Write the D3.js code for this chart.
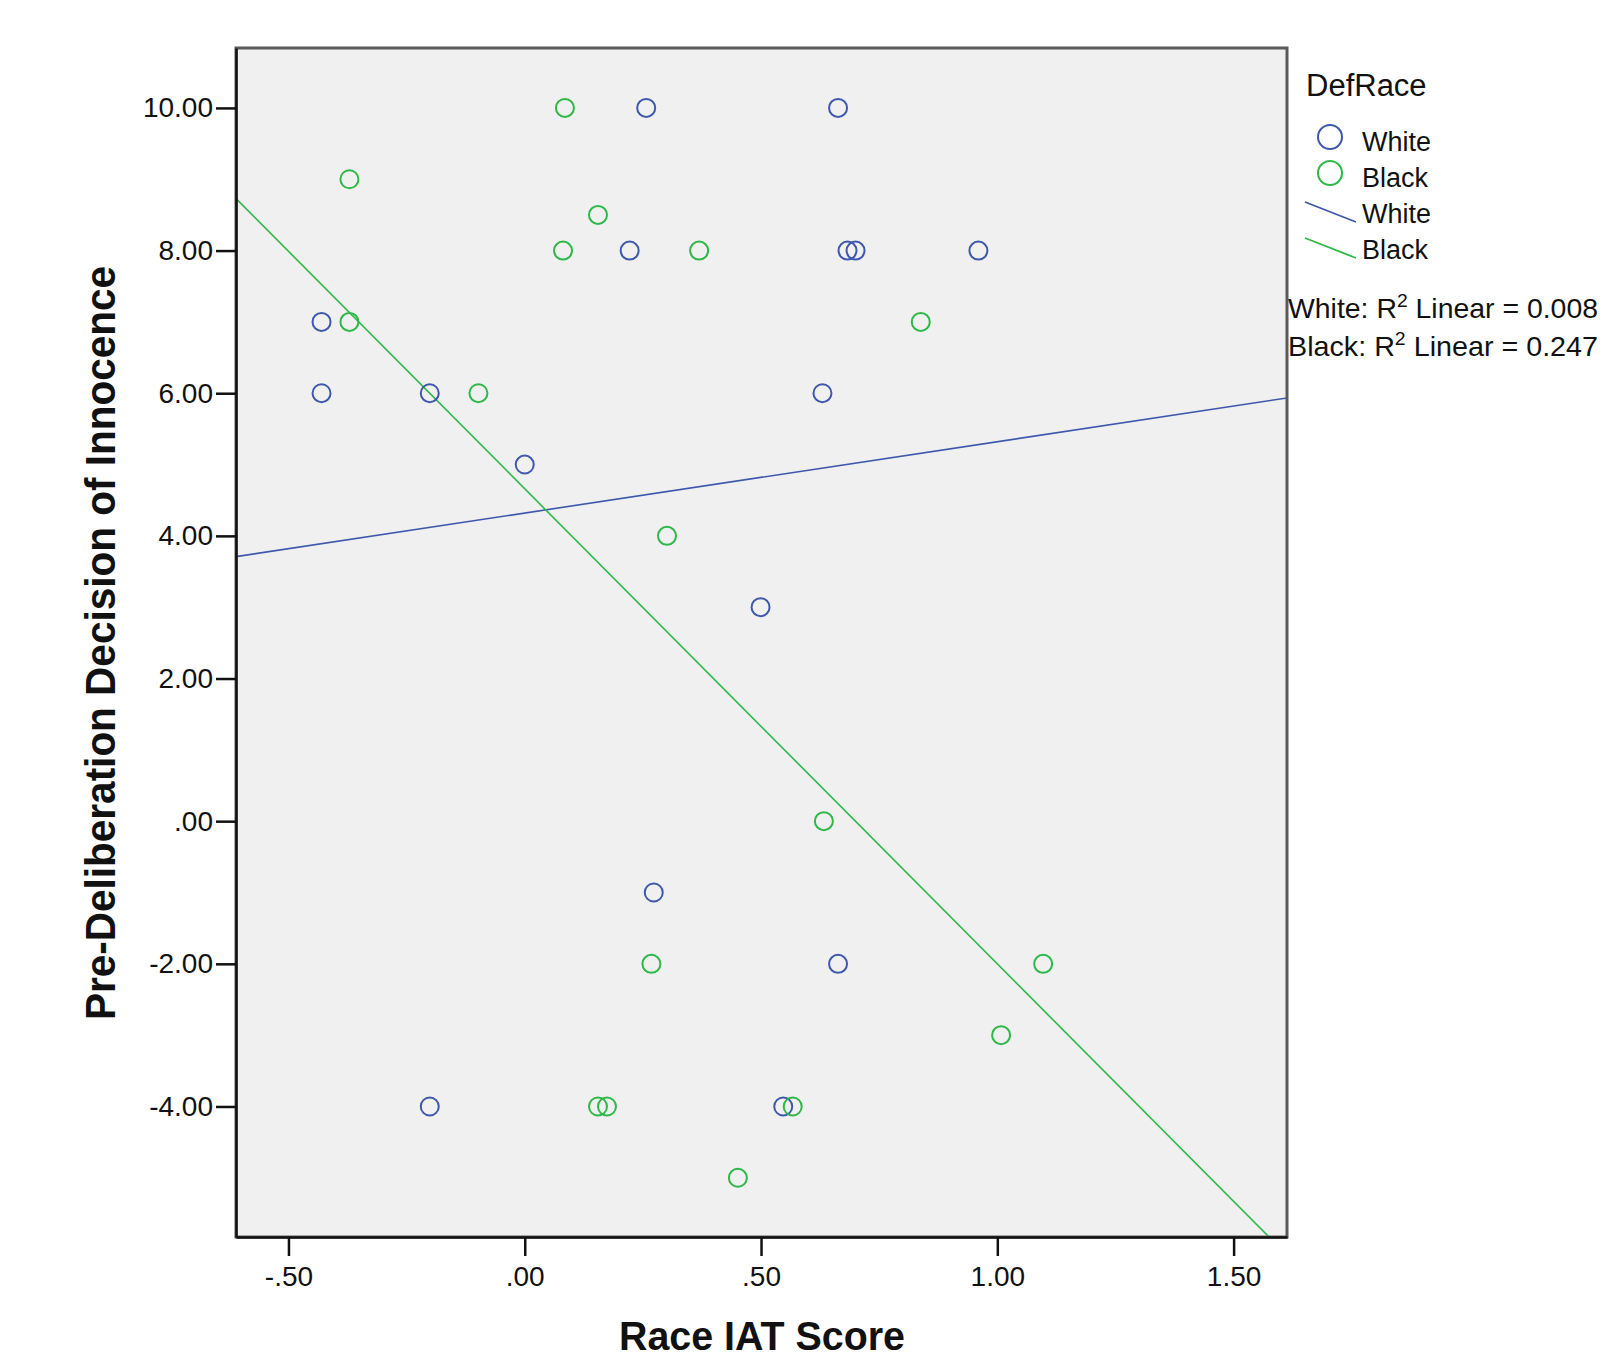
<!DOCTYPE html>
<html>
<head>
<meta charset="utf-8">
<script src="https://cdn.jsdelivr.net/npm/d3@7"></script>
<style>
    body { margin: 0; background: #fff; }
    text { font-family: "Liberation Sans", Arial, sans-serif; fill: #111; }
</style>
</head>
<body>
<div id="chart"></div>
<script>
// IAT score (x) and pre-deliberation decision (y), per defendant race
const whiteX = [0.257, 0.663, 0.222, 0.683, 0.700, 0.960, -0.430, -0.430, -0.201, 0.630, 0.000, 0.499, 0.273, 0.663, -0.201, 0.547];
const whiteY = [10, 10, 8, 8, 8, 8, 7, 6, 6, 6, 5, 3, -1, -2, -4, -4];
const blackX = [0.085, -0.371, 0.155, 0.081, 0.369, -0.371, 0.838, -0.098, 0.301, 0.633, 0.268, 1.097, 1.008, 0.155, 0.174, 0.567, 0.451];
const blackY = [10, 9, 8.5, 8, 8, 7, 7, 6, 4, 0, -2, -2, -3, -4, -4, -4, -5];

// fit lines: [intercept, slope]
const whiteFit = [4.32, 1.00];
const blackFit = [4.66, -6.66];

const groups = ["White", "Black"];
const rSquared = ["0.008", "0.247"];

const xTicks = [-0.5, 0, 0.5, 1, 1.5];
const xTickLabels = ["-.50", ".00", ".50", "1.00", "1.50"];
const yTicks = [10, 8, 6, 4, 2, 0, -2, -4];
const yTickLabels = ["10.00", "8.00", "6.00", "4.00", "2.00", ".00", "-2.00", "-4.00"];

const colors = { White: "#3e58ac", Black: "#2eb848" };

const W = 1615, H = 1360;
const plot = { left: 236, right: 1287, top: 48, bottom: 1237 };

const svg = d3.select('#chart').append('svg')
            .attr('width', W)
            .attr('height', H);

const x = d3.scaleLinear()
            .domain([-0.611, 1.613])
            .range([plot.left, plot.right]);
const y = d3.scaleLinear()
            .domain([-5.83, 10.84])
            .range([plot.bottom, plot.top]);

// plot background
svg.append('rect')
    .attr('x', plot.left)
    .attr('y', plot.top)
    .attr('width', plot.right - plot.left)
    .attr('height', plot.bottom - plot.top)
    .attr('fill', '#f0f0f0');

svg.append('clipPath')
    .attr('id', 'clip')
  .append('rect')
    .attr('x', plot.left)
    .attr('y', plot.top)
    .attr('width', plot.right - plot.left)
    .attr('height', plot.bottom - plot.top);

// fit lines
const fits = [
    { name: "White", fit: whiteFit },
    { name: "Black", fit: blackFit }
];
const line = d3.line()
            .x(d => x(d[0]))
            .y(d => y(d[1]));
svg.append('g')
    .attr('clip-path', 'url(#clip)')
  .selectAll('path')
    .data(fits)
    .join('path')
    .attr('d', f => {
        const [a, b] = x.domain();
        return line([[a, f.fit[0] + f.fit[1] * a], [b, f.fit[0] + f.fit[1] * b]]);
    })
    .attr('fill', 'none')
    .attr('stroke', f => colors[f.name])
    .attr('stroke-width', 1.6);

// points
const points = [
    ...whiteX.map((v, i) => ({ g: "White", x: v, y: whiteY[i] })),
    ...blackX.map((v, i) => ({ g: "Black", x: v, y: blackY[i] }))
];
svg.append('g')
  .selectAll('circle')
    .data(points)
    .join('circle')
    .attr('cx', d => x(d.x))
    .attr('cy', d => y(d.y))
    .attr('r', 9)
    .attr('fill', 'none')
    .attr('stroke', d => colors[d.g])
    .attr('stroke-width', 2);

// frame (top / right are grey)
svg.append('rect')
    .attr('x', plot.left)
    .attr('y', plot.top)
    .attr('width', plot.right - plot.left)
    .attr('height', plot.bottom - plot.top)
    .attr('fill', 'none')
    .attr('stroke', '#5a5a5a')
    .attr('stroke-width', 3);

// axes
const xAxis = svg.append('g')
    .attr('transform', 'translate(0,' + plot.bottom + ')')
    .call(d3.axisBottom(x)
        .tickValues(xTicks)
        .tickFormat((d, i) => xTickLabels[i])
        .tickSize(19)
        .tickSizeOuter(0)
        .tickPadding(10));
const yAxis = svg.append('g')
    .attr('transform', 'translate(' + plot.left + ',0)')
    .call(d3.axisLeft(y)
        .tickValues(yTicks)
        .tickFormat((d, i) => yTickLabels[i])
        .tickSize(20)
        .tickSizeOuter(0)
        .tickPadding(3));

[xAxis, yAxis].forEach(ax => {
    ax.select('.domain')
        .attr('stroke', '#111')
        .attr('stroke-width', 2.5);
    ax.selectAll('.tick line')
        .attr('stroke', '#111')
        .attr('stroke-width', 2.5);
    ax.selectAll('.tick text')
        .attr('font-size', 28)
        .attr('fill', '#111')
        .style('font-family', '"Liberation Sans", Arial, sans-serif');
});

// axis titles
svg.append('text')
    .attr('x', 762)
    .attr('y', 1350)
    .attr('text-anchor', 'middle')
    .attr('font-size', 40)
    .attr('font-weight', 'bold')
    .attr('textLength', 286)
    .attr('lengthAdjust', 'spacingAndGlyphs')
    .text('Race IAT Score');

svg.append('text')
    .attr('transform', 'translate(115,643) rotate(-90)')
    .attr('text-anchor', 'middle')
    .attr('font-size', 42)
    .attr('font-weight', 'bold')
    .attr('textLength', 754)
    .attr('lengthAdjust', 'spacingAndGlyphs')
    .text('Pre-Deliberation Decision of Innocence');

// legend
const legend = svg.append('g');
legend.append('text')
    .attr('x', 1306)
    .attr('y', 96)
    .attr('font-size', 31)
    .text('DefRace');

legend.selectAll('circle')
    .data(groups)
    .join('circle')
    .attr('cx', 1330)
    .attr('cy', (d, i) => 137 + i * 36)
    .attr('r', 12)
    .attr('fill', 'none')
    .attr('stroke', d => colors[d])
    .attr('stroke-width', 2);

legend.selectAll('line')
    .data(groups)
    .join('line')
    .attr('x1', 1305)
    .attr('x2', 1356)
    .attr('y1', (d, i) => 202 + i * 36)
    .attr('y2', (d, i) => 222 + i * 36)
    .attr('stroke', d => colors[d])
    .attr('stroke-width', 1.8);

legend.selectAll('text.item')
    .data(groups.concat(groups))
    .join('text')
    .attr('class', 'item')
    .attr('x', 1362)
    .attr('y', (d, i) => 151 + i * 36)
    .attr('font-size', 27)
    .text(d => d);

// R squared notes
const notes = legend.selectAll('text.note')
    .data(groups)
    .join('text')
    .attr('class', 'note')
    .attr('x', 1288)
    .attr('y', (d, i) => 318 + i * 38)
    .attr('font-size', 28)
    .attr('textLength', 310)
    .attr('lengthAdjust', 'spacingAndGlyphs');
notes.append('tspan').text(d => d + ': R');
notes.append('tspan')
    .attr('dy', -11)
    .attr('font-size', 19)
    .text('2');
notes.append('tspan')
    .attr('dy', 11)
    .text((d, i) => ' Linear = ' + rSquared[i]);
</script>
</body>
</html>
